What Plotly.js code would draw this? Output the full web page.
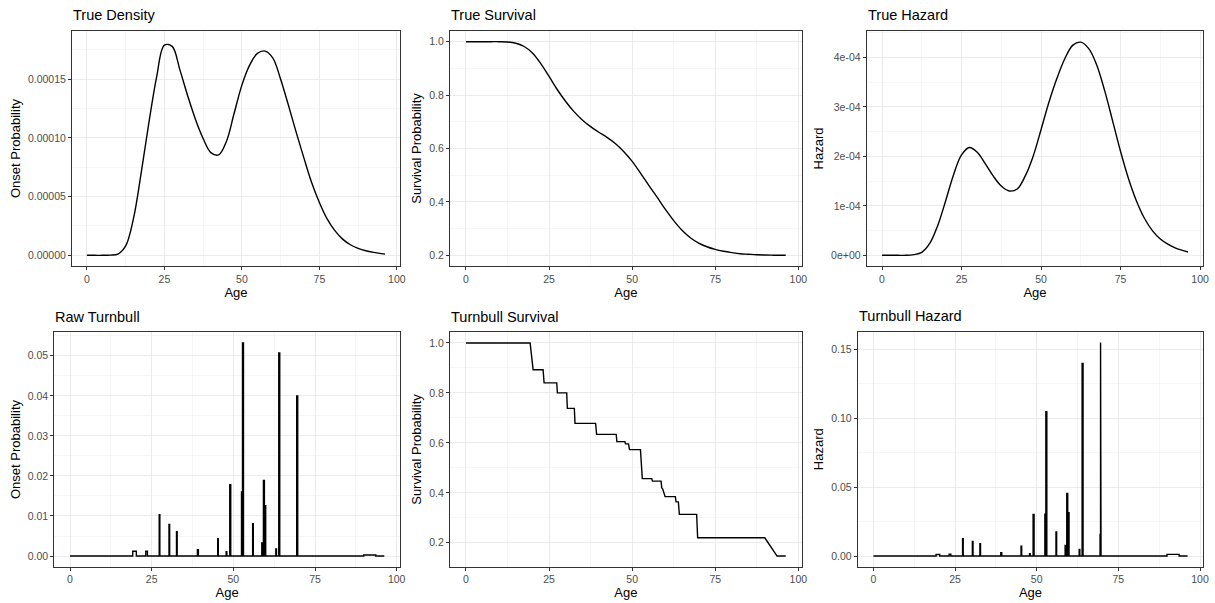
<!DOCTYPE html>
<html>
<head>
<meta charset="utf-8">
<script src="https://cdn.plot.ly/plotly-3.0.1.min.js"></script>
<style>html,body{margin:0;padding:0;background:#fff;}#chart{width:1215px;height:603px;}</style>
</head>
<body>
<div id="chart"></div>
<script>
// ---------- data ----------
const ageGrid = [0,2.5,5,7.5,10,12.5,15,17.5,20,22.5,25,27.5,30,32.5,35,37.5,40,42.5,45,47.5,50,52.5,55,57.5,60,62.5,65,67.5,70,72.5,75,77.5,80,82.5,85,87.5,90,92.5,96.2];

const trueDensity = [0,0,0,0.0000002,0.000001,0.000008,0.000031,0.00007,0.000113,0.000152,0.000179,0.000178,0.000158,0.000136,0.000116,0.0000995,0.0000875,0.0000855,0.000097,0.000121,0.000145,0.000162,0.000172,0.000174,0.000168,0.00015,0.000128,0.000105,0.000083,0.000062,0.000045,0.000031,0.000021,0.0000138,0.000009,0.000006,0.0000039,0.0000025,0.000001];

const trueSurvival = [1,1,1,1,1,0.999,0.994,0.982,0.958,0.918,0.87,0.82,0.776,0.738,0.707,0.682,0.661,0.641,0.618,0.588,0.552,0.508,0.462,0.418,0.372,0.33,0.294,0.266,0.246,0.232,0.222,0.215,0.21,0.206,0.204,0.202,0.201,0.2005,0.2];

const trueHazard = [0,0,0,0,0.0000015,0.000006,0.000024,0.00006,0.00011,0.000163,0.000203,0.000218,0.000208,0.000185,0.00016,0.00014,0.00013,0.000134,0.00016,0.0002,0.000254,0.00031,0.000358,0.000398,0.000425,0.000431,0.000418,0.000385,0.000333,0.000272,0.00021,0.000155,0.00011,0.000075,0.00005,0.000033,0.000022,0.000014,0.0000068];

// Raw Turnbull onset probability: interval start, interval end, mass
const rawStart  = [19.2,23.2,27.3,30.3,32.6,39.0,45.2,47.8,48.9,52.5,52.8,55.9,58.7,59.2,59.6,63.0,63.9,69.4,89.9];
const rawEnd    = [20.3,23.7,27.5,30.5,32.8,39.3,45.4,48.0,49.2,52.7,53.1,56.1,58.9,59.5,59.9,63.2,64.2,69.7,93.6];
const rawHeight = [0.0012,0.0012,0.0103,0.0079,0.0061,0.0016,0.0043,0.0011,0.0178,0.0160,0.0532,0.0081,0.0033,0.0189,0.0126,0.0018,0.0507,0.0400,0.00025];

// Turnbull hazard
const hazStart  = [19.2,23.2,27.3,30.3,32.6,39.0,45.2,47.8,48.9,52.5,52.8,55.9,58.7,59.2,59.6,63.0,63.9,69.4,69.55,89.9];
const hazEnd    = [20.3,23.7,27.5,30.5,32.8,39.3,45.4,48.0,49.2,52.7,53.1,56.1,58.9,59.5,59.9,63.2,64.2,69.55,69.7,93.6];
const hazHeight = [0.0011,0.0013,0.0126,0.0105,0.0089,0.0024,0.0071,0.0017,0.0301,0.0303,0.1047,0.0174,0.0076,0.0454,0.0314,0.0048,0.1398,0.0156,0.1550,0.0012];

// Turnbull survival curve vertices
const tbAge  = [0,19.3,20.2,23.2,23.5,27.3,27.5,30.3,30.5,32.6,32.8,39.0,39.3,45.2,45.4,47.8,48.0,48.9,49.2,52.5,52.75,53.05,55.9,56.1,58.7,58.9,59.2,59.5,59.9,63.0,63.2,63.9,64.2,69.4,69.7,89.9,93.6,96.2];
const tbSurv = [1,1,0.893,0.893,0.840,0.840,0.800,0.800,0.738,0.738,0.678,0.678,0.634,0.634,0.605,0.605,0.596,0.596,0.573,0.573,0.52,0.457,0.457,0.447,0.447,0.42,0.415,0.398,0.385,0.385,0.364,0.364,0.314,0.314,0.22,0.22,0.147,0.147];

const ageMax = 96.2;

const panelTitles = ["True Density","True Survival","True Hazard","Raw Turnbull","Turnbull Survival","Turnbull Hazard"];
const yTitles = ["Onset Probability","Survival Probability","Hazard","Onset Probability","Survival Probability","Hazard"];
const xTickVals = [0,25,50,75,100];
const xTickText = ["0","25","50","75","100"];
const yTicks = [
  {vals:[0,0.00005,0.0001,0.00015], text:["0.00000","0.00005","0.00010","0.00015"]},
  {vals:[0.2,0.4,0.6,0.8,1.0], text:["0.2","0.4","0.6","0.8","1.0"]},
  {vals:[0,0.0001,0.0002,0.0003,0.0004], text:["0e+00","1e-04","2e-04","3e-04","4e-04"]},
  {vals:[0,0.01,0.02,0.03,0.04,0.05], text:["0.00","0.01","0.02","0.03","0.04","0.05"]},
  {vals:[0.2,0.4,0.6,0.8,1.0], text:["0.2","0.4","0.6","0.8","1.0"]},
  {vals:[0,0.05,0.10,0.15], text:["0.00","0.05","0.10","0.15"]}
];

// ---------- build spike paths ----------
function spikePath(starts, ends, heights, xmax){
  const xs=[0], ys=[0];
  for(let i=0;i<starts.length;i++){
    xs.push(starts[i],starts[i],ends[i],ends[i]);
    ys.push(0,heights[i],heights[i],0);
  }
  xs.push(xmax); ys.push(0);
  return {x:xs,y:ys};
}
const rawPath = spikePath(rawStart, rawEnd, rawHeight, ageMax);
const hazPath = spikePath(hazStart, hazEnd, hazHeight, ageMax);

function padRange(lo, hi){ const d=(hi-lo)*0.05; return [lo-d, hi+d]; }
const yDataRanges = [
  padRange(0, 0.000182),
  padRange(Math.min(...trueSurvival), Math.max(...trueSurvival)),
  padRange(0, 0.000432),
  padRange(0, Math.max(...rawHeight)),
  padRange(Math.min(...tbSurv), Math.max(...tbSurv)),
  padRange(0, Math.max(...hazHeight))
];
const xRange = padRange(0, ageMax);

const lineStyle = {color:'#000000', width:1.4};
const traces = [
  {x:ageGrid, y:trueDensity, type:'scatter', mode:'lines', line:Object.assign({shape:'spline',smoothing:1},lineStyle), xaxis:'x', yaxis:'y'},
  {x:ageGrid, y:trueSurvival, type:'scatter', mode:'lines', line:Object.assign({shape:'spline',smoothing:1},lineStyle), xaxis:'x2', yaxis:'y2'},
  {x:ageGrid, y:trueHazard, type:'scatter', mode:'lines', line:Object.assign({shape:'spline',smoothing:1},lineStyle), xaxis:'x3', yaxis:'y3'},
  {x:rawPath.x, y:rawPath.y, type:'scatter', mode:'lines', line:lineStyle, xaxis:'x4', yaxis:'y4'},
  {x:tbAge, y:tbSurv, type:'scatter', mode:'lines', line:lineStyle, xaxis:'x5', yaxis:'y5'},
  {x:hazPath.x, y:hazPath.y, type:'scatter', mode:'lines', line:lineStyle, xaxis:'x6', yaxis:'y6'}
];

// ---------- layout ----------
const W=1215, H=603;
const panels = [ // pixel boxes [left,right,top,bottom]
  [72,400,31,266],[450,801.7,31,266],[866.7,1203.3,31,266],
  [54.3,400,332.3,566.7],[450,801.7,332.3,566.7],[857.7,1203.3,331.7,566.7]
];
const FONT = 'Liberation Sans, Arial, Helvetica, sans-serif';
const layout = {
  width:W, height:H, margin:{l:0,r:0,t:0,b:0},
  paper_bgcolor:'#ffffff', plot_bgcolor:'#ffffff', showlegend:false,
  font:{family:FONT, color:'#000000'},
  annotations:[]
};
function minorVals(vals){
  const step = vals[1]-vals[0], out=[];
  out.push(vals[0]-step/2);
  for(const v of vals) out.push(v+step/2);
  return out;
}
panels.forEach((p,i)=>{
  const n = i===0 ? '' : String(i+1);
  const xd=[p[0]/W, p[1]/W], yd=[1-p[3]/H, 1-p[2]/H];
  const common = {
    showline:true, mirror:true, linecolor:'#333333', linewidth:1,
    ticks:'outside', ticklen:3, tickwidth:1, tickcolor:'#333333',
    tickfont:{size:10.5, color:'#4D4D4D', family:FONT},
    showgrid:true, gridcolor:'#EBEBEB', gridwidth:1, zeroline:false,
    fixedrange:true
  };
  layout['xaxis'+n] = Object.assign({}, common, {
    domain:xd, anchor:'y'+n, range:xRange, tickmode:'array', tickvals:xTickVals, ticktext:xTickText,
    minor:{tickmode:'array', tickvals:minorVals(xTickVals), showgrid:true, gridcolor:'#F0F0F0', gridwidth:0.6, ticks:''},
    title:{text:'Age', font:{size:13, color:'#000000', family:FONT}, standoff:2}
  });
  layout['yaxis'+n] = Object.assign({}, common, {
    domain:yd, anchor:'x'+n, range:yDataRanges[i], tickmode:'array', tickvals:yTicks[i].vals, ticktext:yTicks[i].text,
    minor:{tickmode:'array', tickvals:minorVals(yTicks[i].vals), showgrid:true, gridcolor:'#F0F0F0', gridwidth:0.6, ticks:''},
    title:{text:yTitles[i], font:{size:13, color:'#000000', family:FONT}, standoff:4}
  });
  layout.annotations.push({
    text:panelTitles[i], xref:'x'+n+' domain', yref:'y'+n+' domain', x:0, y:1,
    xanchor:'left', yanchor:'middle', yshift:15.5, xshift:-1, showarrow:false,
    font:{size:14.5, color:'#000000', family:FONT}
  });
});

Plotly.newPlot('chart', traces, layout, {staticPlot:true, displayModeBar:false});
</script>
</body>
</html>
